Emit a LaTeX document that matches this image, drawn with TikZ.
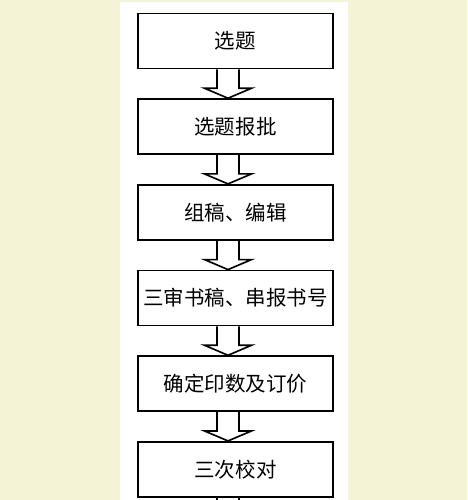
\documentclass[tikz,border=0pt]{standalone}
\usepackage{fontspec}
\newfontfamily\cjk{Noto Sans CJK SC}
\usetikzlibrary{positioning,calc}
\definecolor{paper}{RGB}{245,243,214}

\begin{document}
\begin{tikzpicture}[
  x=0.03cm, y=-0.03cm,
  stage/.style={draw, line width=1.6pt, minimum width=5.85cm, minimum height=1.65cm,
    inner sep=0pt, font=\cjk\fontsize{17.5}{21}\selectfont},
  down/.style={draw, line width=1.4pt, line join=miter, to path={
    ($(\tikztostart.south)+(-18.5,0)$) -- ($(\tikztotarget.north)+(-18.5,-10)$)
    -- ($(\tikztotarget.north)+(-31,-10)$) -- ($(\tikztotarget.north)+(-7.5,0)$)
    -- ($(\tikztotarget.north)+(16,-10)$) -- ($(\tikztotarget.north)+(3.5,-10)$)
    -- ($(\tikztostart.south)+(3.5,0)$)}},
  node distance=0.864cm
]
\useasboundingbox (0,0) rectangle (467,500);
\fill[paper] (0,0) rectangle (467,500);
\fill[white] (120,2) rectangle (348,500);

\node[stage] (b1) at (235.5,41) {选题};
\node[stage, below=of b1] (b2) {选题报批};
\node[stage, below=of b2] (b3) {组稿、编辑};
\node[stage, below=of b3] (b4) {三审书稿、串报书号};
\node[stage, below=of b4] (b5) {确定印数及订价};
\node[stage, below=of b5] (b6) {三次校对};

\draw[down] (b1) to (b2);
\draw[down] (b2) to (b3);
\draw[down] (b3) to (b4);
\draw[down] (b4) to (b5);
\draw[down] (b5) to (b6);
\draw[line width=1.4pt] ($(b6.south)+(-18.5,0)$) -- +(0,10);
\draw[line width=1.4pt] ($(b6.south)+(3.5,0)$) -- +(0,10);
\end{tikzpicture}
\end{document}
